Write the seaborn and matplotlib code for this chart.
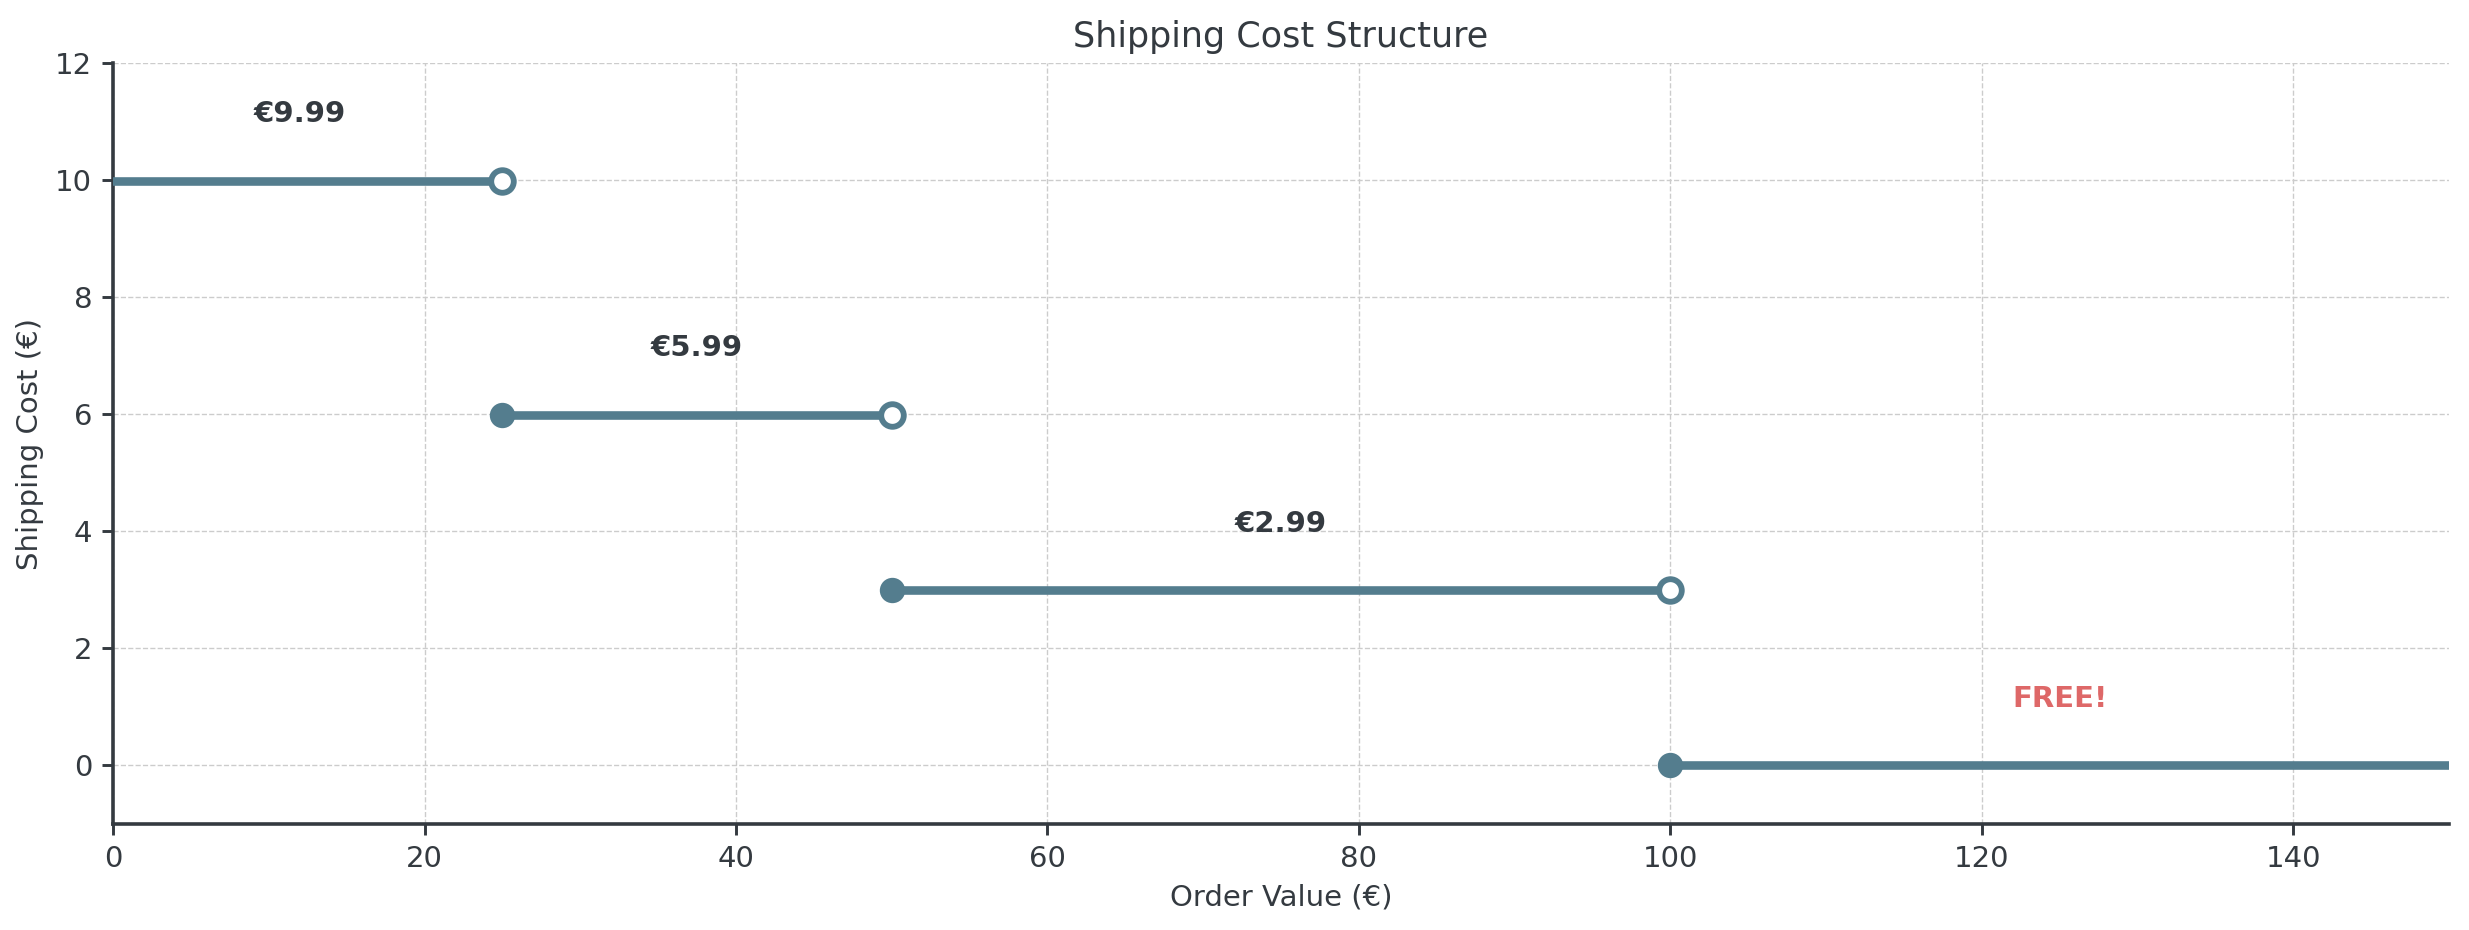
import matplotlib
matplotlib.use("Agg")
import matplotlib.pyplot as plt
import seaborn as sns
import pandas as pd

# Data
tier_start = [-1, 25, 50, 100]
tier_end = [25, 50, 100, 150]
tier_cost = [9.99, 5.99, 2.99, 0.0]
tier_label = ["€9.99", "€5.99", "€2.99", "FREE!"]
open_end = [True, True, True, False]
closed_start = [False, True, True, True]

LINE = "#547d8e"
DARK = "#343a40"
RED = "#de6868"

sns.set_theme(style="ticks")
plt.rcParams["font.family"] = ["DejaVu Sans"]
plt.rcParams.update({
    "axes.edgecolor": DARK,
    "axes.labelcolor": DARK,
    "xtick.color": DARK,
    "ytick.color": DARK,
    "text.color": DARK,
})

fig, ax = plt.subplots(figsize=(12.345, 4.65), dpi=200)
fig.subplots_adjust(left=0.0458, right=0.9919, top=0.932, bottom=0.114)

for i in range(len(tier_cost)):
    seg = pd.DataFrame({"x": [tier_start[i], tier_end[i]],
                        "y": [tier_cost[i], tier_cost[i]]})
    sns.lineplot(data=seg, x="x", y="y", ax=ax, color=LINE, linewidth=3.1,
                 zorder=3)

starts = pd.DataFrame({"x": [s for s, c in zip(tier_start, closed_start) if c],
                       "y": [v for v, c in zip(tier_cost, closed_start) if c]})
ends = pd.DataFrame({"x": [e for e, o in zip(tier_end, open_end) if o],
                     "y": [v for v, o in zip(tier_cost, open_end) if o]})
sns.scatterplot(data=starts, x="x", y="y", ax=ax, s=66, color=LINE,
                edgecolor=LINE, linewidth=1, zorder=4)
sns.scatterplot(data=ends, x="x", y="y", ax=ax, s=66, facecolor="white",
                edgecolor=LINE, linewidth=2.1, zorder=4)

for s, e, c, lab in zip(tier_start, tier_end, tier_cost, tier_label):
    ax.text((s + e) / 2, c + 1, lab, ha="center", va="baseline",
            fontsize=10.5, fontweight="bold",
            color=RED if lab == "FREE!" else DARK)

ax.set_xlim(0, 150)
ax.set_ylim(-1, 12)
ax.set_yticks([0, 2, 4, 6, 8, 10, 12])
ax.set_xticks([0, 20, 40, 60, 80, 100, 120, 140])
ax.tick_params(labelsize=10.5, width=1.05, length=4)
ax.grid(True, linestyle="--", linewidth=0.5, color="#cccccc")
ax.set_axisbelow(True)
for sp in ["top", "right"]:
    ax.spines[sp].set_visible(False)
for sp in ["left", "bottom"]:
    ax.spines[sp].set_linewidth(1.3)
    ax.spines[sp].set_color(DARK)

ax.set_title("Shipping Cost Structure", fontsize=12.6, color=DARK)
ax.set_xlabel("Order Value (€)", fontsize=10.5)
ax.set_ylabel("Shipping Cost (€)", fontsize=10.5)

fig.savefig("out.png", dpi=200)
